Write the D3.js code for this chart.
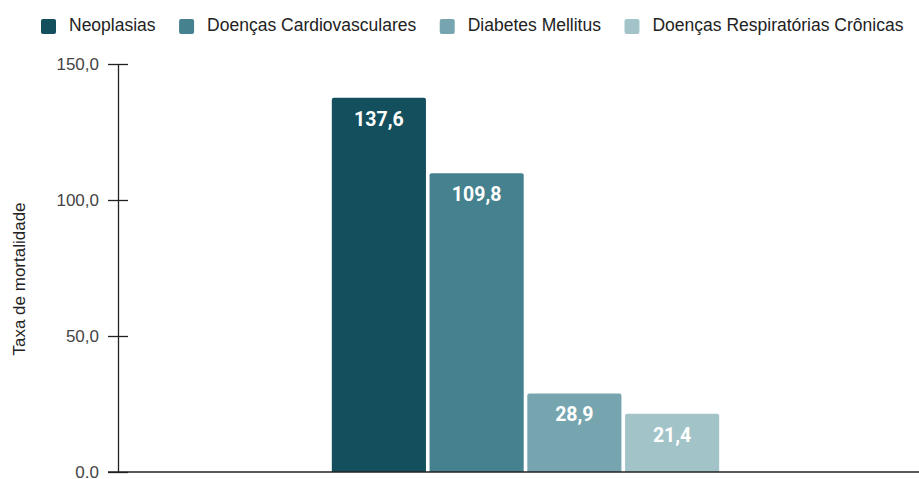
<!DOCTYPE html>
<html><head><meta charset="utf-8">
<script src="https://cdn.jsdelivr.net/npm/d3@7"></script>
<style>
html,body{margin:0;padding:0;background:#fff;}
svg{display:block;}
</style></head>
<body>
<svg id="chart" width="919" height="479"></svg>
<script>
const categories = ["Neoplasias", "Doenças Cardiovasculares", "Diabetes Mellitus", "Doenças Respiratórias Crônicas"];
const values = [137.6, 109.8, 28.9, 21.4];
const colors = ["#134f5c", "#45818e", "#76a5af", "#a2c4c9"];
const yTicks = [0, 50, 100, 150];
const yTickLabels = ["0.0", "50,0", "100,0", "150,0"];
const yTitle = "Taxa de mortalidade";
const group = [""];

const svg = d3.select("#chart");
const mLeft = 118, mRight = 933, mTop = 64, mBottom = 472;

const y = d3.scaleLinear().domain([0, 150]).range([mBottom, mTop]);
const x0 = d3.scaleBand().domain(group).range([mLeft, mRight]).paddingInner(0).paddingOuter(0.552);
const x1 = d3.scaleBand().domain(categories).range([0, x0.bandwidth()]).paddingInner(0.037).paddingOuter(0);

const fmt = v => v.toFixed(1).replace(".", ",");

// bars
const g = svg.append("g").attr("transform", `translate(${x0("")},0)`);
g.selectAll("path.bar").data(categories).join("path")
  .attr("class", "bar")
  .attr("fill", (d, i) => colors[i])
  .attr("d", (d, i) => {
    const x = x1(d), w = x1.bandwidth(), yt = y(values[i]), yb = y(0), r = 2;
    return `M${x},${yb}V${yt + r}Q${x},${yt} ${x + r},${yt}H${x + w - r}Q${x + w},${yt} ${x + w},${yt + r}V${yb}Z`;
  });
g.selectAll("text.lbl").data(categories).join("text")
  .attr("class", "lbl")
  .attr("x", d => x1(d) + x1.bandwidth() / 2)
  .attr("y", (d, i) => y(values[i]) + 28)
  .attr("text-anchor", "middle")
  .attr("fill", "#fff")
  .style("font-family", "Roboto, sans-serif")
  .style("font-weight", "700")
  .style("font-size", "19.5px")
  .text((d, i) => fmt(values[i]));

// y axis
const yAxis = d3.axisLeft(y).tickValues(yTicks).tickFormat((d, i) => yTickLabels[i]).tickSizeInner(10).tickSizeOuter(0).tickPadding(8);
const ya = svg.append("g").attr("transform", `translate(${mLeft},0)`).call(yAxis);
ya.select(".domain").attr("stroke", "#222").attr("stroke-width", 1.3);
ya.selectAll(".tick line").attr("stroke", "#222").attr("stroke-width", 1.3).attr("x2", 10).attr("x1", -10);
ya.selectAll(".tick text").attr("fill", "#444").attr("x", -19)
  .style("font-family", "'Liberation Sans', Arial, sans-serif").style("font-size", "17px");

// baseline
svg.append("line").attr("x1", mLeft - 10).attr("x2", 919).attr("y1", y(0)).attr("y2", y(0))
  .attr("stroke", "#222").attr("stroke-width", 1.3);

// y title
svg.append("text")
  .attr("transform", `translate(25,${(200 + 358) / 2}) rotate(-90)`)
  .attr("text-anchor", "middle")
  .attr("fill", "#222")
  .style("font-family", "'Liberation Sans', Arial, sans-serif")
  .style("font-size", "17px")
  .text(yTitle);

// legend
const leg = svg.append("g");
let lx = 41;
categories.forEach((c, i) => {
  leg.append("rect").attr("x", lx).attr("y", 19).attr("width", 15).attr("height", 15).attr("rx", 2).attr("fill", colors[i]);
  const t = leg.append("text").attr("x", lx + 28).attr("y", 31)
    .attr("fill", "#222")
    .style("font-family", "'Liberation Sans', Arial, sans-serif")
    .style("font-size", "17.5px")
    .text(c);
  lx = lx + 28 + t.node().getComputedTextLength() + 23.5;
});
</script>
</body></html>
